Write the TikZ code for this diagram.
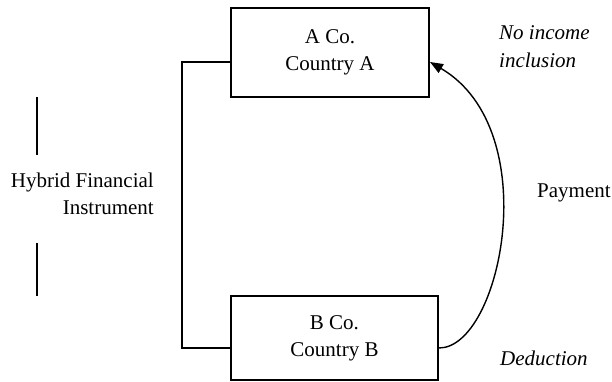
\documentclass[tikz,border=0pt]{standalone}
\usepackage{fontspec}
\setmainfont{Liberation Serif}
\usetikzlibrary{arrows.meta}
\begin{document}
\begin{tikzpicture}[x=1pt,y=-1pt,
  every node/.style={font=\fontsize{21}{27}\selectfont},
  entity/.style={draw, line width=2pt, minimum width=198pt, minimum height=89pt, align=center, inner sep=0pt},
  txt/.style={inner sep=0pt, anchor=base west},
  txtr/.style={inner sep=0pt, anchor=base east},
  conn/.style={line width=1.4pt},
  ]
\useasboundingbox (0,0) rectangle (612,382);
\node[entity] (A) at (330,52.5) {A Co.\\Country A};
\node[entity, minimum width=207pt, minimum height=84pt] (B) at (334.5,338) {B Co.\\Country B};
% bracket
\draw[conn] ([yshift=-9.5pt]A.west) -- ++(-48,0) |- ([yshift=-10pt]B.west);
% payment arrow
\draw[conn, -{Triangle[length=13pt,width=10pt]}] ([yshift=-10pt]B.east) .. controls +(62,0) and +(116,68) .. ([yshift=-9.5pt]A.east);
% side marks
\coordinate (m1a) at (37,97); \coordinate (m1b) at (37,155);
\coordinate (m2a) at (37,243); \coordinate (m2b) at (37,296);
\draw[conn] (m1a) -- (m1b);
\draw[conn] (m2a) -- (m2b);
% labels
\node[txtr] (h1) at (154,187) {Hybrid Financial};
\node[txtr] (h2) at (154,214) {Instrument};
\node[txt] (n1) at (499,40) {\itshape No income};
\node[txt] (n2) at (499,68) {\itshape inclusion};
\node[txt] (pay) at (537,197) {Payment};
\node[txt] (ded) at (500,365) {\itshape Deduction};
\end{tikzpicture}
\end{document}
